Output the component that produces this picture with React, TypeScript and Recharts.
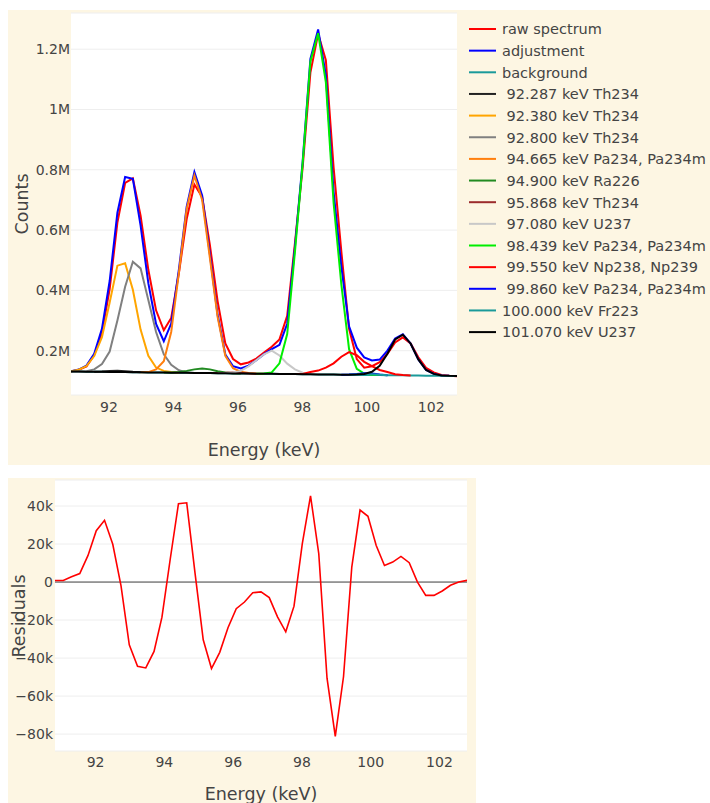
import { LineChart, Line, XAxis, YAxis, CartesianGrid, ReferenceLine } from "recharts";

const FONT = "'DejaVu Sans', Verdana, sans-serif";
const INK = "#444";
const PAPER = "#fdf6e3";

// channel energies (keV)
const energy = [
  90.82, 91.06, 91.3, 91.54, 91.78, 92.02, 92.26, 92.5, 92.74, 92.98, 93.22, 93.46, 93.7,
  93.93, 94.17, 94.41, 94.65, 94.89, 95.13, 95.37, 95.61, 95.85, 96.09, 96.33, 96.57, 96.81,
  97.05, 97.29, 97.53, 97.77, 98.01, 98.25, 98.49, 98.73, 98.97, 99.21, 99.45, 99.69, 99.92,
  100.16, 100.4, 100.64, 100.88, 101.12, 101.36, 101.6, 101.84, 102.08, 102.32, 102.56, 102.8,
];

const rawSpectrum = [
  131200, 136500, 147800, 185400, 258400, 404000, 625100, 756300, 771800, 647700, 468300,
  333800, 267700, 308500, 458400, 636800, 751100, 710100, 550800, 364500, 224300, 172400,
  154700, 160800, 173800, 193700, 213000, 237400, 315600, 556400, 807900, 1122200, 1250700,
  1163500, 808400, 529200, 272700, 172100, 143400, 148600, 161800, 189800, 227100, 244200,
  224000, 178000, 143000, 127700, 119700, 116500, 115100,
];

const adjustment = [
  132000, 137300, 150600, 189900, 272400, 431000, 657600, 776200, 769800, 614700, 424000,
  288600, 231200, 290000, 470400, 678000, 792800, 715100, 520400, 319000, 187300, 148400,
  140700, 150300, 168200, 188500, 204800, 219100, 289400, 543700, 828000, 1167600, 1265600,
  1112900, 727200, 479500, 280600, 210000, 178000, 167800, 170500, 200300, 240600, 254400,
  224000, 171000, 136000, 123000, 118000, 116500, 116000,
];

const background = [
  131000, 130700, 130400, 130100, 129800, 129500, 129200, 128900, 128600, 128300, 128000,
  127700, 127400, 127100, 126800, 126500, 126200, 125900, 125600, 125300, 125000, 124700,
  124400, 124100, 123800, 123500, 123200, 122900, 122600, 122300, 122000, 121700, 121400,
  121100, 120800, 120500, 120200, 119900, 119600, 119300, 119000, 118700, 118400, 118100,
  117800, 117500, 117200, 116900, 116600, 116300, 116000,
];

const residuals = [
  800, 800, 2800, 4500, 14000, 27000, 32500, 19900, -2000, -33000, -44300, -45200, -36500,
  -18500, 12000, 41200, 41700, 5000, -30400, -45500, -37000, -24000, -14000, -10500, -5600,
  -5200, -8200, -18300, -26200, -12700, 20100, 45400, 14900, -50600, -81200, -49700, 7900,
  37900, 34600, 19200, 8700, 10500, 13500, 10200, 0, -7000, -7000, -4700, -1700, 0, 900,
];

// peak components, each listed from its first channel
const th234At92287 = [130100, 131000, 132500, 133500, 132000, 129800, 128300]; // from ch 3
const th234At92380 = [
  132000, 137000, 149000, 182000, 245000, 360000, 482000, 490000, 402000, 270000, 183000,
  144000, 133000, 129000, 126800,
]; // from ch 0
const th234At92800 = [
  131000, 131000, 132000, 138000, 156000, 197000, 300000, 412000, 495000, 473000, 368000,
  262000, 188000, 153000, 135000, 128000, 126200,
]; // from ch 0
const pa234At94665 = [
  128300, 129000, 138000, 165000, 262000, 460000, 670000, 781000, 700000, 508000, 312000,
  183000, 142000, 130000, 126000, 124000, 123500,
]; // from ch 9
const ra226At94900 = [
  127400, 127500, 129000, 133000, 138000, 141000, 138000, 132000, 127500, 125000, 124400,
]; // from ch 12
const th234At95868 = [125600, 125600, 126500, 128000, 126500, 124500, 123800]; // from ch 18
const u237At97080 = [
  125300, 125300, 127500, 133000, 148000, 168000, 188000, 200000, 184000, 157000, 138000,
  127000, 123000, 121400,
]; // from ch 19
const pa234At98439 = [
  123800, 124000, 128000, 158000, 255000, 528000, 822000, 1159000, 1253000, 1090000, 690000,
  420000, 205000, 140000, 124000, 120000, 119000,
]; // from ch 24
const np238At99550 = [
  122300, 123000, 129000, 134000, 144000, 158000, 180000, 195000, 185000, 163000, 149000,
  136000, 129000, 122000, 119500, 117800,
]; // from ch 29
const pa234At99860 = [120500, 121000, 123000, 125000, 124000, 121000, 118700]; // from ch 35
const fr223At100000 = [120200, 121000, 122000, 122000, 120500, 118700]; // from ch 36
const u237At101070 = [
  131000, 130700, 130400, 130100, 129800, 129500, 129200, 128900, 128600, 128300, 128000,
  127700, 127400, 127100, 126800, 126500, 126200, 125900, 125600, 125300, 125000, 124700,
  124400, 124100, 123800, 123500, 123200, 122900, 122600, 122300, 122000, 121700, 121400,
  121100, 120800, 120500, 120200, 121000, 123000, 130000, 150000, 190000, 237000, 253000,
  224000, 171000, 136000, 123000, 118000, 116500, 116000,
]; // from ch 0

const xTicks = [92, 94, 96, 98, 100, 102];
const countTicks = [200000, 400000, 600000, 800000, 1000000, 1200000];
const residualTicks = [-80000, -60000, -40000, -20000, 0, 20000, 40000];

const series = [
  { key: "raw", label: "raw spectrum", color: "#ff0000", from: 0, values: rawSpectrum },
  { key: "fit", label: "adjustment", color: "#0000ff", from: 0, values: adjustment },
  { key: "bg", label: "background", color: "#1a9a9a", from: 0, values: background },
  { key: "p1", label: " 92.287 keV Th234", color: "#222222", from: 3, values: th234At92287 },
  { key: "p2", label: " 92.380 keV Th234", color: "#ffa500", from: 0, values: th234At92380 },
  { key: "p3", label: " 92.800 keV Th234", color: "#808080", from: 0, values: th234At92800 },
  { key: "p4", label: " 94.665 keV Pa234, Pa234m", color: "#ff7f0e", from: 9, values: pa234At94665 },
  { key: "p5", label: " 94.900 keV Ra226", color: "#228b22", from: 12, values: ra226At94900 },
  { key: "p6", label: " 95.868 keV Th234", color: "#9b2c2c", from: 18, values: th234At95868 },
  { key: "p7", label: " 97.080 keV U237", color: "#c8c8c8", from: 19, values: u237At97080 },
  { key: "p8", label: " 98.439 keV Pa234, Pa234m", color: "#00ee00", from: 24, values: pa234At98439 },
  { key: "p9", label: " 99.550 keV Np238, Np239", color: "#ff0000", from: 29, values: np238At99550 },
  { key: "p10", label: " 99.860 keV Pa234, Pa234m", color: "#0000ff", from: 35, values: pa234At99860 },
  { key: "p11", label: "100.000 keV Fr223", color: "#1a9a9a", from: 36, values: fr223At100000 },
  { key: "p12", label: "101.070 keV U237", color: "#000000", from: 0, values: u237At101070 },
];

const rows = energy.map((e, i) => {
  const row: Record<string, number | null> = { e, res: residuals[i] };
  series.forEach((s) => {
    const j = i - s.from;
    row[s.key] = j >= 0 && j < s.values.length ? s.values[j] : null;
  });
  return row;
});

const tickStyle = { fill: INK, fontSize: 14, fontFamily: FONT };

const fmtCounts = (v: number) => `${v / 1000000}M`;
const fmtResidual = (v: number) =>
  v === 0 ? "0" : `${v < 0 ? "\u2212" : ""}${Math.abs(v) / 1000}k`;

function Title({ x, y, text, rotate }: { x: number; y: number; text: string; rotate?: boolean }) {
  return (
    <text
      x={x}
      y={y}
      textAnchor="middle"
      fill={INK}
      fontSize={17.5}
      fontFamily={FONT}
      transform={rotate ? `rotate(-90 ${x} ${y})` : undefined}
    >
      {text}
    </text>
  );
}

function Legend() {
  return (
    <svg width={250} height={350} style={{ position: "absolute", left: 455, top: 0 }}>
      {series.map((s, i) => {
        const yc = 19 + i * 21.65;
        return (
          <g key={s.key}>
            <line x1={6} x2={33} y1={yc} y2={yc} stroke={s.color} strokeWidth={2} />
            <text
              x={39}
              y={yc + 5.3}
              fill={INK}
              fontSize={14.5}
              fontFamily={FONT}
              style={{ whiteSpace: "pre" }}
            >
              {s.label}
            </text>
          </g>
        );
      })}
    </svg>
  );
}

export default function App() {
  return (
    <div style={{ position: "relative", width: 710, height: 803, fontFamily: FONT }}>
      <style>{"body{margin:0;overflow:hidden}"}</style>

      <div style={{ position: "absolute", left: 8, top: 10, width: 702, height: 455, background: PAPER }}>
        <LineChart width={702} height={455} data={rows} margin={{ top: 3, right: 253, bottom: 0, left: 0 }}>
          <CartesianGrid vertical={false} stroke="#eeeeee" fill="#ffffff" fillOpacity={1} />
          <XAxis
            dataKey="e"
            type="number"
            domain={[90.82, 102.8]}
            ticks={xTicks}
            allowDataOverflow
            axisLine={false}
            tickLine={false}
            tickSize={0}
            tickMargin={7}
            height={70}
            tick={tickStyle}
            label={() => <Title x={256} y={446} text="Energy (keV)" />}
          />
          <YAxis
            type="number"
            domain={[53000, 1320000]}
            ticks={countTicks}
            allowDataOverflow
            axisLine={false}
            tickLine={false}
            tickSize={0}
            tickMargin={1}
            width={63}
            tick={tickStyle}
            tickFormatter={fmtCounts}
            label={() => <Title x={20} y={194} text="Counts" rotate />}
          />
          {series.map((s) => (
            <Line
              key={s.key}
              type="linear"
              dataKey={s.key}
              stroke={s.color}
              strokeWidth={2}
              dot={false}
              activeDot={false}
              isAnimationActive={false}
            />
          ))}
        </LineChart>
        <Legend />
      </div>

      <div style={{ position: "absolute", left: 8, top: 478, width: 468, height: 325, background: PAPER }}>
        <LineChart width={468} height={325} data={rows} margin={{ top: 2, right: 9, bottom: 0, left: 0 }}>
          <CartesianGrid vertical={false} stroke="#eeeeee" fill="#ffffff" fillOpacity={1} />
          <XAxis
            dataKey="e"
            type="number"
            domain={[90.82, 102.8]}
            ticks={xTicks}
            allowDataOverflow
            axisLine={false}
            tickLine={false}
            tickSize={0}
            tickMargin={6}
            height={52}
            tick={tickStyle}
            label={() => <Title x={253} y={322} text="Energy (keV)" />}
          />
          <YAxis
            type="number"
            domain={[-88900, 53700]}
            ticks={residualTicks}
            allowDataOverflow
            axisLine={false}
            tickLine={false}
            tickSize={0}
            tickMargin={2}
            width={47}
            tick={tickStyle}
            tickFormatter={fmtResidual}
            label={() => <Title x={17} y={138} text="Residuals" rotate />}
          />
          <ReferenceLine y={0} stroke={INK} strokeWidth={1} />
          <Line
            type="linear"
            dataKey="res"
            stroke="#ff0000"
            strokeWidth={1.6}
            dot={false}
            activeDot={false}
            isAnimationActive={false}
          />
        </LineChart>
      </div>
    </div>
  );
}
